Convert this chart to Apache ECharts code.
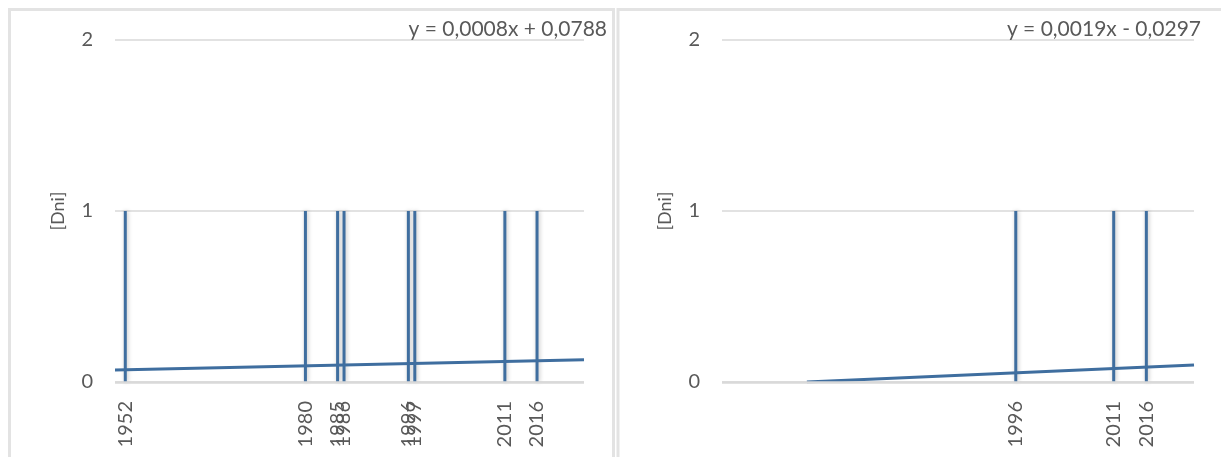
<!DOCTYPE html>
<html>
<head>
<meta charset="utf-8">
<script src="https://cdn.jsdelivr.net/npm/echarts@6/dist/echarts.min.js"></script>
<style>
html,body{margin:0;padding:0;background:#fff;}
#c{width:1221px;height:457px;}
</style>
</head>
<body>
<div id="c"></div>
<script>
// Data
const leftYears = [1952, 1980, 1985, 1986, 1996, 1997, 2011, 2016];
const leftValues = [1, 1, 1, 1, 1, 1, 1, 1];
const rightYears = [1996, 2011, 2016];
const rightValues = [1, 1, 1];
// Trend line endpoints [year, value]
const leftTrend = [[1950.4, 0.07], [2023.3, 0.13]];
const rightTrend = [[1964, 0.0], [2023.3, 0.10]];
const leftEquation = 'y = 0,0008x + 0,0788';
const rightEquation = 'y = 0,0019x - 0,0297';
const yTicks = [0, 1, 2];
const yName = '[Dni]';

const FONT = 'Lato, "Open Sans", sans-serif';
const TXT = '#595959';
const BLUE = '#3F6E9F';
const GRID = '#d9d9d9';

function xAxis(idx, min, max, labels) {
  return {
    type: 'value', gridIndex: idx, min: min, max: max,
    axisLine: {show: false},
    axisTick: {show: false},
    splitLine: {show: false},
    axisLabel: {
      customValues: labels, rotate: 90, margin: 19,
      color: TXT, fontSize: 20, fontFamily: FONT,
      formatter: v => String(Math.round(v))
    }
  };
}
function yAxis(idx) {
  return {
    type: 'value', gridIndex: idx, min: yTicks[0], max: yTicks[yTicks.length - 1], interval: 1,
    name: yName, nameLocation: 'middle', nameRotate: 90, nameGap: 48,
    nameTextStyle: {color: TXT, fontSize: 18, fontFamily: FONT},
    axisLine: {show: false}, axisTick: {show: false},
    axisLabel: {color: TXT, fontSize: 20, fontFamily: FONT, margin: 22},
    splitLine: {show: true, lineStyle: {color: GRID, width: 1.5}}
  };
}
function bars(idx, years, vals) {
  return {
    type: 'bar', xAxisIndex: idx, yAxisIndex: idx,
    data: years.map((y, i) => [y, vals[i]]),
    barWidth: 3,
    itemStyle: {color: BLUE, shadowBlur: 4, shadowColor: 'rgba(0,0,0,0.25)', shadowOffsetX: 1},
    z: 3
  };
}
function trend(idx, pts) {
  return {
    type: 'line', xAxisIndex: idx, yAxisIndex: idx, data: pts,
    showSymbol: false, clip: true,
    lineStyle: {color: BLUE, width: 3},
    z: 4
  };
}
function zeroLine(idx) {
  return {
    type: 'line', xAxisIndex: idx, yAxisIndex: idx,
    data: [], markLine: {
      silent: true, symbol: 'none', label: {show: false},
      lineStyle: {color: GRID, width: 2.5, type: 'solid'},
      data: [{yAxis: 0}]
    }, z: 2
  };
}

const chart = echarts.init(document.getElementById('c'), null, {renderer: 'canvas'});
chart.setOption({
  animation: false,
  backgroundColor: '#fff',
  grid: [
    {left: 115, top: 40, width: 469, height: 342},
    {left: 722, top: 40, width: 472, height: 342}
  ],
  xAxis: [xAxis(0, 1950.4, 2023.3, leftYears), xAxis(1, 1951, 2023.3, rightYears)],
  yAxis: [yAxis(0), yAxis(1)],
  series: [
    zeroLine(0), zeroLine(1),
    bars(0, leftYears, leftValues), bars(1, rightYears, rightValues),
    trend(0, leftTrend), trend(1, rightTrend)
  ],
  graphic: [
    {type: 'rect', shape: {x: 9.5, y: 9.5, width: 604, height: 460}, style: {fill: 'none', stroke: '#e3e3e3', lineWidth: 3}, silent: true},
    {type: 'rect', shape: {x: 618, y: 9.5, width: 620, height: 460}, style: {fill: 'none', stroke: '#e3e3e3', lineWidth: 3}, silent: true},
    {type: 'text', right: 1221 - 607, top: 19, style: {text: leftEquation, fill: TXT, fontSize: 21, fontFamily: FONT, textAlign: 'right'}, z: 10},
    {type: 'text', right: 1221 - 1201, top: 19, style: {text: rightEquation, fill: TXT, fontSize: 21, fontFamily: FONT, textAlign: 'right'}, z: 10}
  ]
});
</script>
</body>
</html>
